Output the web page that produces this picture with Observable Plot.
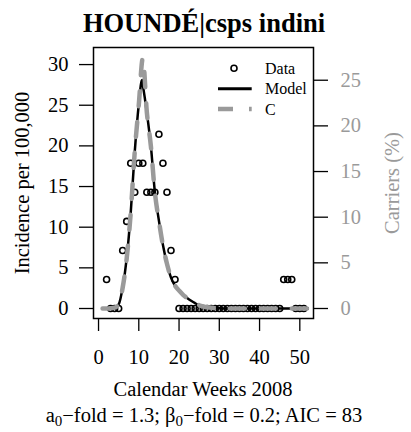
<!DOCTYPE html>
<html><head><meta charset="utf-8">
<script src="https://cdn.jsdelivr.net/npm/d3@7"></script>
<script src="https://cdn.jsdelivr.net/npm/@observablehq/plot@0.6"></script>
<style>body{margin:0;background:#fff}</style>
</head><body><div id="chart"></div>
<script>
// Observed weekly incidence (per 100,000)
const weeks = [2,3,4,5,6,7,8,9,10,11,12,13,14,15,16,17,18,19,20,21,22,23,24,25,26,27,28,29,30,31,32,33,34,35,36,37,38,39,40,41,42,43,44,45,46,47,48,49,50,51];
const incidence = [3.57,0,0,0,7.14,10.71,17.86,14.29,17.86,17.86,14.29,14.29,14.29,21.43,17.86,14.29,7.14,3.57,0,0,0,0,0,0,0,0,0,0,0,0,0,0,0,0,0,0,0,0,0,0,0,0,0,0,3.57,3.57,3.57,0,0,0];
// Model curve (incidence per 100,000)
const modelWeeks = [1,2,3,4,5,6,7,8,9,10,10.8,11,12,13,14,15,16,17,18,19,20,21,22,23,24,25,26,27,28,29,30,32,35,40,45,50,52];
const modelValues = [0,0,0.02,0.1,0.5,2.6,6.2,11.8,19.3,25.1,28.1,27.5,24.1,20.0,14.3,10.8,7.8,5.5,3.8,2.8,2.2,1.7,1.3,0.95,0.65,0.4,0.25,0.15,0.1,0.06,0.03,0,0,0,0,0,0];
// Carriers (%)
const carrierWeeks = [1,2,3,4,5,6,7,8,9,10,11,12,13,14,15,16,17,18,19,20,21,22,23,24,25,26,27,28,29,30,32,35,40,45,50,52];
const carrierValues = [0,0,0.02,0.09,0.45,2.3,5.5,10.5,17.2,22.3,27.4,21.5,17.8,12.7,9.6,6.9,4.9,3.4,2.5,1.96,1.5,1.15,0.85,0.58,0.36,0.22,0.13,0.09,0.05,0.03,0,0,0,0,0,0];
const xTicks = [0,10,20,30,40,50];
const yTicks = [0,5,10,15,20,25,30];
const carrierTicks = [0,5,10,15,20,25];
const legendLabels = ["Data","Model","C"];

const k = 1.123; // incidence units per carrier %
const GRAY = "#9a9a9a";
const FONT = "Liberation Serif";

const obs = weeks.map((w,i)=>({w, v: incidence[i]}));
const model = modelWeeks.map((w,i)=>({w, v: modelValues[i]}));
const carr = carrierWeeks.map((w,i)=>({w, v: carrierValues[i]*k}));

const plot = Plot.plot({
  width: 411, height: 432,
  marginTop: 47, marginBottom: 114, marginLeft: 93, marginRight: 98,
  style: {fontFamily: FONT, fontSize: "20.5px", background: "white", color: "black"},
  x: {domain: [-1.25, 53.4]},
  y: {domain: [-1.23, 32.1]},
  marks: [
    Plot.axisX({ticks: xTicks, tickSize: 13, tickPadding: 18, label: null, strokeWidth: 1.3}),
    Plot.axisY({ticks: yTicks, tickSize: 14, tickPadding: 11, label: null, strokeWidth: 1.3}),
    Plot.axisY({anchor: "right", ticks: carrierTicks.map(c=>c*k), tickFormat: () => "", tickSize: 14, label: null, strokeWidth: 1.3}),
    Plot.axisY({anchor: "right", ticks: carrierTicks.map(c=>c*k), tickFormat: d=>String(Math.round(d/k)), tickSize: 0, tickPadding: 27, label: null, color: GRAY}),
    Plot.dot(obs, {x: "w", y: "v", r: 3, stroke: "black", strokeWidth: 1.6, fill: "none"}),
    Plot.line(model, {x: "w", y: "v", stroke: "black", strokeWidth: 2.5, curve: "monotone-x"}),
    Plot.line(carr, {x: "w", y: "v", stroke: GRAY, strokeWidth: 4.5, strokeDasharray: "15,16", curve: "monotone-x"}),
    Plot.frame({stroke: "black", strokeWidth: 1.5})
  ]
});
document.getElementById("chart").appendChild(plot);

const svg = d3.select(plot);
const g = svg.append("g").attr("font-family", FONT).attr("fill", "black");
g.append("text").attr("x", 204).attr("y", 32).attr("text-anchor", "middle")
  .attr("font-size", 26.5).attr("font-weight", "bold").text("HOUNDÉ|csps indini");
g.append("text").attr("x", 203).attr("y", 396).attr("text-anchor", "middle")
  .attr("font-size", 20.5).text("Calendar Weeks 2008");
const sub = g.append("text").attr("x", 204).attr("y", 422).attr("text-anchor", "middle").attr("font-size", 20.5);
sub.append("tspan").text("a");
sub.append("tspan").attr("dy", 4).attr("font-size", 15).text("0");
sub.append("tspan").attr("dy", -4).text("−fold = 1.3; β");
sub.append("tspan").attr("dy", 4).attr("font-size", 15).text("0");
sub.append("tspan").attr("dy", -4).text("−fold = 0.2; AIC = 83");
g.append("text").attr("transform", "translate(29,183) rotate(-90)").attr("text-anchor", "middle")
  .attr("font-size", 20.5).text("Incidence per 100,000");
g.append("text").attr("transform", "translate(399,183) rotate(-90)").attr("text-anchor", "middle")
  .attr("font-size", 20.5).attr("fill", GRAY).text("Carriers (%)");
// legend
const lg = svg.append("g").attr("font-family", FONT).attr("font-size", 16).attr("text-anchor", "start");
lg.append("circle").attr("cx", 234).attr("cy", 68.3).attr("r", 3).attr("fill", "none").attr("stroke", "black").attr("stroke-width", 1.6);
lg.append("line").attr("x1", 218).attr("x2", 251.7).attr("y1", 88.7).attr("y2", 88.7).attr("stroke", "black").attr("stroke-width", 3);
lg.append("line").attr("x1", 218).attr("x2", 251.7).attr("y1", 109).attr("y2", 109).attr("stroke", GRAY).attr("stroke-width", 4.5).attr("stroke-dasharray", "15,16");
[73.5, 94, 114.5].forEach((yy,i)=>{
  lg.append("text").attr("x", 265).attr("y", yy).attr("text-anchor", "start").text(legendLabels[i]);
});
</script></body></html>
